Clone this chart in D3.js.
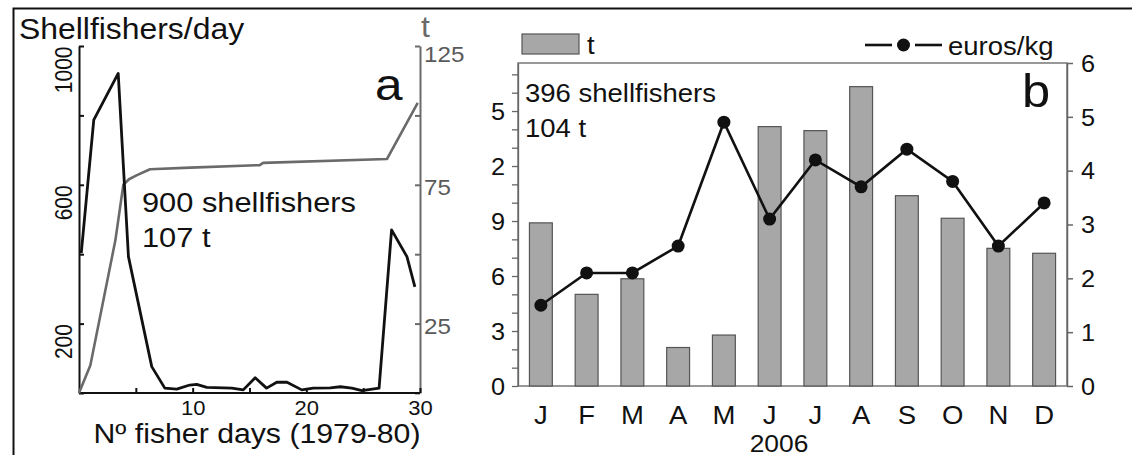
<!DOCTYPE html>
<html>
<head>
<meta charset="utf-8">
<script src="https://cdn.jsdelivr.net/npm/d3@7"></script>
<style>
  html, body { margin: 0; padding: 0; background: #fff; }
  svg { display: block; font-family: Arial, "Liberation Sans", Helvetica, sans-serif; }
</style>
</head>
<body>
<svg id="chart" width="1132" height="455"></svg>
<script>
// ---- Panel a: daily shellfishers and cumulative catch, 1979-80 season ----
const fisherDays   = [0.2, 1.3, 3.45, 4.35, 6.4, 7.55, 8.6, 9.75, 10.35, 11.25, 13.45, 14.45, 15.5, 16.5, 17.4, 18.3, 19.6, 20.6, 22.1, 23, 24, 24.9, 26.4, 27.5, 28.85, 29.55];
const fishersPerDay = [403, 787, 921, 393, 76, 14, 11, 23, 25, 16, 14, 9, 44, 14, 31, 31, 9, 14, 15, 18, 14, 7, 14, 470, 393, 306];
const catchDays    = [0, 1, 3.2, 3.9, 4.4, 5.1, 6.25, 9.8, 15.9, 16.2, 27.1, 29.8];
const catchTonnes  = [0, 10, 55, 75, 77, 78.5, 80.6, 81.2, 82.1, 82.9, 84.3, 104.5];
const fishersTicks = [0, 200, 400, 600, 800, 1000];
const fishersTickLabels = ["", "200", "", "600", "", "1000"];
const tonnesTicks  = [0, 25, 50, 75, 100, 125];
const tonnesTickLabels = ["", "25", "", "75", "", "125"];
const dayTicks     = [5, 10, 15, 20, 25, 30];
const dayTickLabels = ["", "10", "", "20", "", "30"];

// ---- Panel b: monthly catch (t) and first-sale price (euros/kg), 2006 ----
const months       = ["J", "F", "M", "A", "M", "J", "J", "A", "S", "O", "N", "D"];
const monthTonnes  = [8.9, 5.0, 5.85, 2.1, 2.78, 14.15, 13.93, 16.33, 10.38, 9.15, 7.51, 7.24];
const monthPrice   = [1.5, 2.1, 2.1, 2.6, 4.9, 3.1, 4.2, 3.7, 4.4, 3.8, 2.6, 3.4];
const tonnesBTicks = [0, 3, 6, 9, 12, 15];
const tonnesBTickLabels = ["0", "3", "6", "9", "2", "5"];
const priceTicks   = [0, 1, 2, 3, 4, 5, 6];
const priceTickLabels = ["0", "1", "2", "3", "4", "5", "6"];

const SX = 1.1;            // horizontal text stretch
const DARK = "#111";
const GREY = "#6a6a6a";

const svg = d3.select("#chart");

// outer frame
svg.append("rect")
  .attr("x", 13.5).attr("y", 8.5).attr("width", 1200).attr("height", 600)
  .attr("fill", "none").attr("stroke", DARK).attr("stroke-width", 2);

function label(x, y, s, size, opts = {}) {
  const rot = opts.rotate ? ` rotate(${opts.rotate})` : "";
  return svg.append("text")
    .attr("transform", `translate(${x},${y}) scale(${SX},1)${rot}`)
    .attr("font-size", size)
    .attr("text-anchor", opts.anchor || "start")
    .attr("fill", opts.fill || DARK)
    .text(s);
}

function styleAxis(g, color, width) {
  g.select(".domain").attr("stroke", color).attr("stroke-width", width);
  g.selectAll(".tick line").attr("stroke", color).attr("stroke-width", width);
}

// ================= Panel a =================
const ax0 = 79, ax1 = 420, ayTop = 46, ayBot = 393;
const xA = d3.scaleLinear().domain([0, 30]).range([ax0, ax1]);
const yA = d3.scaleLinear().domain([0, 1000]).range([ayBot, ayTop]);
const tA = d3.scaleLinear().domain([0, 125]).range([ayBot, ayTop]);

// right axis (t), grey
const gRA = svg.append("g").attr("transform", `translate(${ax1},0)`)
  .call(d3.axisRight(tA).tickValues(tonnesTicks).tickSize(-5).tickSizeOuter(0)
    .tickFormat((d, i) => tonnesTickLabels[i]));
styleAxis(gRA, GREY, 2);
gRA.selectAll(".tick text")
  .attr("x", null).attr("dy", null)
  .attr("transform", d => `translate(4,${d === 125 ? 15 : 10}) scale(${SX},1)`)
  .attr("font-size", 22).attr("fill", "#5a5a5a").attr("font-family", null);

// left axis (shellfishers/day)
const gLA = svg.append("g").attr("transform", `translate(${ax0},0)`)
  .call(d3.axisLeft(yA).tickValues(fishersTicks).tickSize(-5).tickSizeOuter(0)
    .tickFormat((d, i) => fishersTickLabels[i]));
styleAxis(gLA, DARK, 2);
gLA.selectAll(".tick text")
  .attr("x", null).attr("dy", null)
  .attr("transform", `translate(-7,0) scale(${SX},1) rotate(-90)`)
  .attr("text-anchor", "end")
  .attr("font-size", 21).attr("fill", DARK).attr("font-family", null);

// bottom axis (days)
const gBA = svg.append("g").attr("transform", `translate(0,${ayBot})`)
  .call(d3.axisBottom(xA).tickValues(dayTicks).tickSize(-5).tickSizeOuter(0)
    .tickFormat((d, i) => dayTickLabels[i]));
gBA.select(".domain").attr("stroke", DARK).attr("stroke-width", 2.2)
  .attr("d", `M${ax0},0H${ax1}`);
gBA.selectAll(".tick line").attr("stroke", DARK).attr("stroke-width", 2);
gBA.selectAll(".tick text")
  .attr("y", null).attr("dy", null)
  .attr("transform", `translate(0,22) scale(${SX},1)`)
  .attr("font-size", 20).attr("fill", DARK).attr("font-family", null);

// cumulative catch (grey) and shellfishers/day (black)
svg.append("path")
  .datum(catchDays.map((d, i) => [d, catchTonnes[i]]))
  .attr("fill", "none").attr("stroke", GREY).attr("stroke-width", 2.6)
  .attr("stroke-linejoin", "round")
  .attr("d", d3.line().x(d => xA(d[0])).y(d => tA(d[1])));

svg.append("path")
  .datum(fisherDays.map((d, i) => [d, fishersPerDay[i]]))
  .attr("fill", "none").attr("stroke", DARK).attr("stroke-width", 2.8)
  .attr("stroke-linejoin", "round")
  .attr("d", d3.line().x(d => xA(d[0])).y(d => yA(d[1])));

label(19, 39, "Shellfishers/day", 29);
label(421, 37, "t", 29, { fill: GREY });
label(142, 212, "900 shellfishers", 28);
label(142, 247, "107 t", 28);
label(375, 100, "a", 45);
label(257, 443, "Nº fisher days (1979-80)", 27.5, { anchor: "middle" });

// ================= Panel b =================
const bx0 = 518, bx1 = 1067, byTop = 63, byBot = 386;
const xB = d3.scaleBand().domain(d3.range(months.length)).range([bx0, bx1])
  .paddingInner(0.5).paddingOuter(0.25);
const yBL = d3.scaleLinear().domain([0, 17.62]).range([byBot, byTop]);
const yBR = d3.scaleLinear().domain([0, 6]).range([byBot, byTop]);

// plot frame
svg.append("rect")
  .attr("x", bx0).attr("y", byTop).attr("width", bx1 - bx0).attr("height", byBot - byTop)
  .attr("fill", "none").attr("stroke", "#777").attr("stroke-width", 1.5);

// bars
svg.append("g").selectAll("rect").data(monthTonnes).join("rect")
  .attr("x", (d, i) => xB(i)).attr("width", xB.bandwidth())
  .attr("y", d => yBL(d)).attr("height", d => byBot - yBL(d))
  .attr("fill", "#a7a7a7").attr("stroke", "#555").attr("stroke-width", 1.2);

// left axis (t), minor ticks every unit
const gLB = svg.append("g").attr("transform", `translate(${bx0},0)`)
  .call(d3.axisLeft(yBL).tickValues(d3.range(0, 18)).tickSize(6).tickSizeOuter(0)
    .tickFormat(d => { const k = tonnesBTicks.indexOf(d); return k >= 0 ? tonnesBTickLabels[k] : ""; }));
styleAxis(gLB, "#666", 1.3);
gLB.selectAll(".tick text")
  .attr("x", null).attr("dy", "0.36em")
  .attr("transform", `translate(-13,0) scale(${SX},1)`)
  .attr("font-size", 23).attr("fill", DARK).attr("font-family", null);

// right axis (euros/kg)
const gRB = svg.append("g").attr("transform", `translate(${bx1},0)`)
  .call(d3.axisRight(yBR).tickValues(priceTicks).tickSize(6).tickSizeOuter(0)
    .tickFormat((d, i) => priceTickLabels[i]));
styleAxis(gRB, "#666", 1.5);
gRB.selectAll(".tick text")
  .attr("x", null).attr("dy", "0.36em")
  .attr("transform", `translate(14,0) scale(${SX},1)`)
  .attr("font-size", 23).attr("fill", DARK).attr("font-family", null);

// month labels
const gMB = svg.append("g").attr("transform", `translate(0,${byBot})`)
  .call(d3.axisBottom(xB).tickSize(0).tickFormat(i => months[i]));
gMB.select(".domain").remove();
gMB.selectAll(".tick text")
  .attr("y", null).attr("dy", null)
  .attr("transform", `translate(0,38) scale(${SX},1)`)
  .attr("font-size", 25).attr("fill", DARK).attr("font-family", null);

// price line with dots
const cx = i => xB(i) + xB.bandwidth() / 2;
svg.append("path")
  .datum(monthPrice)
  .attr("fill", "none").attr("stroke", DARK).attr("stroke-width", 2.6)
  .attr("d", d3.line().x((d, i) => cx(i)).y(d => yBR(d)));
svg.append("g").selectAll("circle").data(monthPrice).join("circle")
  .attr("cx", (d, i) => cx(i)).attr("cy", d => yBR(d)).attr("r", 6.5)
  .attr("fill", DARK);

// legend
svg.append("rect").attr("x", 522).attr("y", 34).attr("width", 57).attr("height", 20)
  .attr("fill", "#a7a7a7").attr("stroke", "#555").attr("stroke-width", 1.2);
label(587, 54, "t", 25);
svg.append("line").attr("x1", 865).attr("x2", 892).attr("y1", 45).attr("y2", 45)
  .attr("stroke", DARK).attr("stroke-width", 2.6);
svg.append("line").attr("x1", 915).attr("x2", 942).attr("y1", 45).attr("y2", 45)
  .attr("stroke", DARK).attr("stroke-width", 2.6);
svg.append("circle").attr("cx", 903.5).attr("cy", 45).attr("r", 6.5).attr("fill", DARK);
label(948, 55, "euros/kg", 25);

label(525, 102, "396 shellfishers", 25);
label(525, 137, "104 t", 25);
label(1022, 107, "b", 46);
label(779, 451.5, "2006", 24, { anchor: "middle" });
</script>
</body>
</html>
